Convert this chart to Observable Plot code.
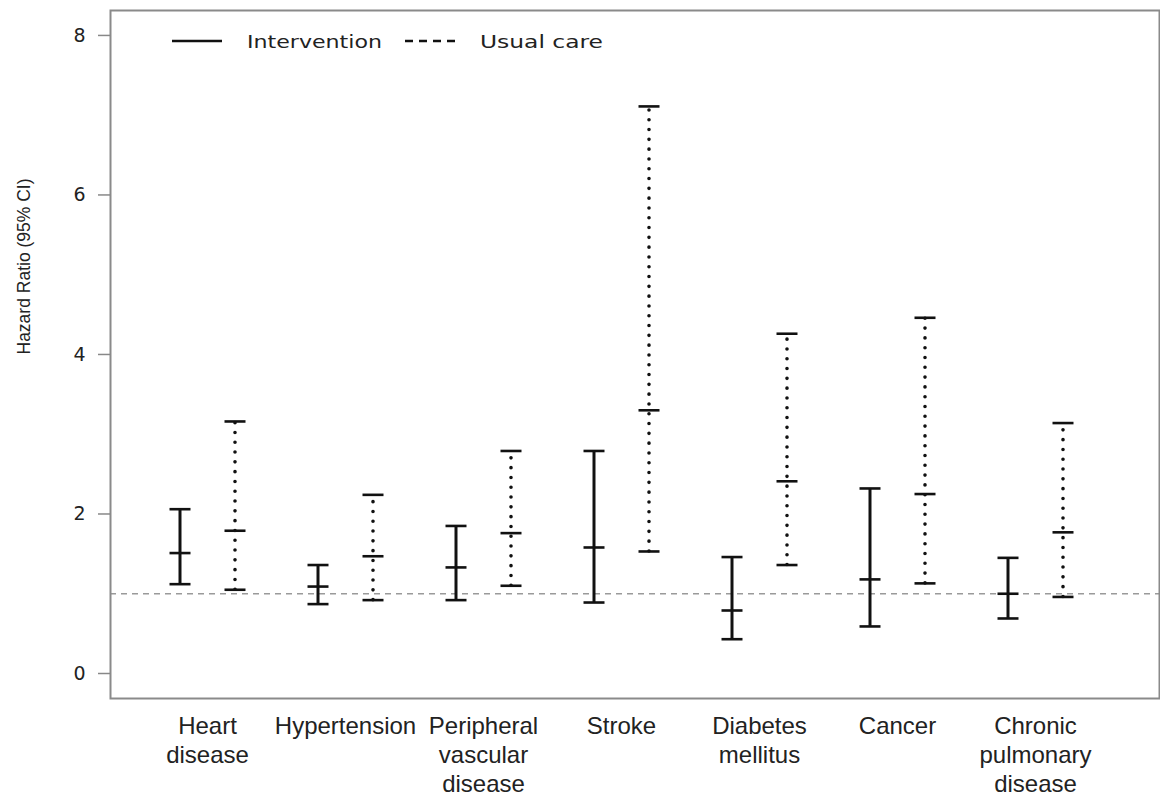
<!DOCTYPE html>
<html>
<head>
<meta charset="utf-8">
<script src="https://cdn.jsdelivr.net/npm/d3@7"></script>
<script src="https://cdn.jsdelivr.net/npm/@observablehq/plot@0.6"></script>
<style>
  html, body { margin: 0; padding: 0; background: #fff; }
  #wrap { position: relative; width: 1160px; height: 800px; }
  #legend { position: absolute; left: 0; top: 0; pointer-events: none; }
</style>
</head>
<body>
<div id="wrap">
  <div id="chart"></div>
  <svg id="legend" width="1160" height="70"></svg>
</div>
<script>
// ---- data ----
const diseases = ["Heart disease", "Hypertension", "Peripheral vascular disease", "Stroke", "Diabetes mellitus", "Cancer", "Chronic pulmonary disease"];
const diseaseLabels = ["Heart\ndisease", "Hypertension", "Peripheral\nvascular\ndisease", "Stroke", "Diabetes\nmellitus", "Cancer", "Chronic\npulmonary\ndisease"];
const interventionHR = [1.51, 1.09, 1.33, 1.58, 0.79, 1.18, 1.00];
const interventionLo = [1.12, 0.87, 0.92, 0.89, 0.43, 0.59, 0.69];
const interventionHi = [2.06, 1.36, 1.85, 2.79, 1.46, 2.32, 1.45];
const usualHR = [1.79, 1.47, 1.76, 3.30, 2.41, 2.25, 1.77];
const usualLo = [1.05, 0.92, 1.10, 1.53, 1.36, 1.13, 0.96];
const usualHi = [3.16, 2.24, 2.79, 7.11, 4.26, 4.46, 3.14];
const yTicks = [0, 2, 4, 6, 8];
const referenceHR = [1];
const seriesNames = ["Intervention", "Usual care"];

// ---- tables built from the arrays ----
const intervention = diseases.map((d, i) => ({disease: d, hr: interventionHR[i], lo: interventionLo[i], hi: interventionHi[i]}));
const usual = diseases.map((d, i) => ({disease: d, hr: usualHR[i], lo: usualLo[i], hi: usualHi[i]}));

// horizontal bar symbol for caps / point estimates
const hbar = {
  draw(context, size) {
    const r = Math.sqrt(size / Math.PI);
    context.moveTo(-r, 0);
    context.lineTo(r, 0);
  }
};

const OFF = 27.5;
const ink = "#111";

function bars(data, dx, dashed) {
  return [
    Plot.ruleX(data, {
      x: "disease", y1: "lo", y2: "hi", dx,
      stroke: ink,
      strokeWidth: dashed ? 3.6 : 3,
      strokeDasharray: dashed ? "0,9.8" : null,
      strokeLinecap: dashed ? "round" : "butt"
    }),
    Plot.dot(data, {x: "disease", y: "hi", dx, symbol: hbar, r: 10.5, stroke: ink, strokeWidth: 2.6, fill: "none"}),
    Plot.dot(data, {x: "disease", y: "lo", dx, symbol: hbar, r: 10.5, stroke: ink, strokeWidth: 2.6, fill: "none"}),
    Plot.dot(data, {x: "disease", y: "hr", dx, symbol: hbar, r: 10.5, stroke: ink, strokeWidth: 2.6, fill: "none"})
  ];
}

const chart = Plot.plot({
  width: 1160,
  height: 800,
  marginTop: 10,
  marginBottom: 102,
  marginLeft: 110,
  marginRight: 1,
  style: {background: "#fff"},
  x: {type: "point", domain: diseases, range: [206.5, 1035], padding: 0, axis: null},
  y: {domain: [-0.3134, 8.3126], axis: null},
  marks: [
    Plot.ruleY(referenceHR, {stroke: "#9a9a9a", strokeWidth: 1.6, strokeDasharray: "6,5"}),
    ...bars(intervention, -OFF, false),
    ...bars(usual, OFF, true),
    Plot.frame({stroke: "#8a8a8a", strokeWidth: 2}),
    Plot.axisY({
      ticks: yTicks, tickSize: 12, tickPadding: 13,
      stroke: "#888", strokeWidth: 1.5, fill: "#222",
      fontSize: 19, fontFamily: "DejaVu Sans", label: null
    }),
    Plot.text(diseases, {
      x: d => d,
      text: (d, i) => diseaseLabels[i],
      frameAnchor: "bottom",
      lineAnchor: "top",
      lineHeight: 1.2,
      dy: 15,
      fontSize: 24,
      fontFamily: "Liberation Sans",
      fill: "#222"
    }),
    Plot.text(["Hazard Ratio (95% CI)"], {
      frameAnchor: "left",
      rotate: -90,
      dx: -86,
      fontSize: 17.5,
      fontFamily: "Liberation Sans",
      fill: "#222"
    })
  ]
});
document.getElementById("chart").appendChild(chart);

// ---- legend (inside the frame, top-left) ----
const lg = d3.select("#legend");
lg.append("line").attr("x1", 172).attr("x2", 222).attr("y1", 41).attr("y2", 41)
  .attr("stroke", ink).attr("stroke-width", 2.6);
lg.append("text").attr("x", 247).attr("y", 47.5).text(seriesNames[0])
  .attr("font-family", "DejaVu Sans").attr("font-size", 18).attr("fill", "#222")
  .attr("textLength", 135).attr("lengthAdjust", "spacingAndGlyphs");
lg.append("line").attr("x1", 405).attr("x2", 455).attr("y1", 41).attr("y2", 41)
  .attr("stroke", ink).attr("stroke-width", 2.6).attr("stroke-dasharray", "8,6");
lg.append("text").attr("x", 480).attr("y", 47.5).text(seriesNames[1])
  .attr("font-family", "DejaVu Sans").attr("font-size", 18).attr("fill", "#222")
  .attr("textLength", 123).attr("lengthAdjust", "spacingAndGlyphs");
</script>
</body>
</html>
